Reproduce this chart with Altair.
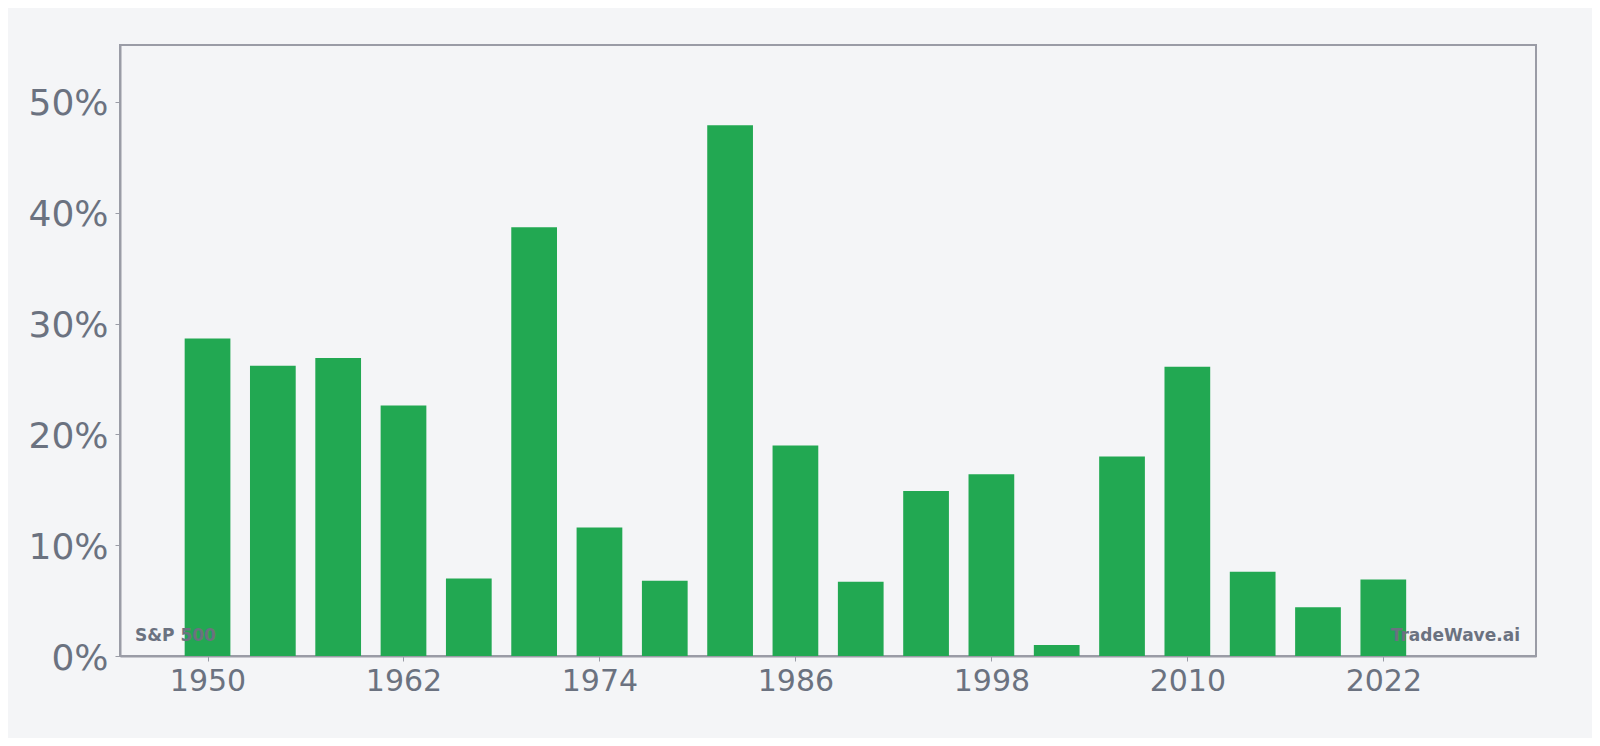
import altair as alt
import pandas as pd

years = [1950, 1954, 1958, 1962, 1966, 1970, 1974, 1978, 1982, 1986,
         1990, 1994, 1998, 2002, 2006, 2010, 2014, 2018, 2022]
returns_pct = [28.65, 26.2, 26.9, 22.6, 7.0, 38.7, 11.6, 6.8, 47.9, 19.0,
               6.7, 14.9, 16.4, 1.0, 18.0, 26.1, 7.6, 4.4, 6.9]
x_ticks = [1950, 1962, 1974, 1986, 1998, 2010, 2022]
y_ticks = [0, 10, 20, 30, 40, 50]
left_label = ["S&P 500"]
right_label = ["TradeWave.ai"]

BG = "#f4f5f7"
GRAY = "#6b7280"
FRAME = "#9a9ca6"
GREEN = "#22a852"

W, H = 1416, 611

df = pd.DataFrame({"year": years, "ret": returns_pct})
df["x0"] = df["year"] - 1.4
df["x1"] = df["year"] + 1.4

xscale = alt.Scale(domain=[1944.64, 2031.35], nice=False, zero=False)
yscale = alt.Scale(domain=[0, 55.14], nice=False)

bars = alt.Chart(df).mark_bar(color=GREEN).encode(
    x=alt.X("x0:Q", scale=xscale,
            axis=alt.Axis(values=x_ticks, format="d", title=None, grid=False,
                          labelFontSize=30, labelColor=GRAY, labelFont="DejaVu Sans",
                          labelPadding=5, tickSize=5, tickColor=FRAME, labelFlush=False,
                          domainColor=FRAME, domainWidth=2)),
    x2="x1:Q",
    y=alt.Y("ret:Q", scale=yscale,
            axis=alt.Axis(values=y_ticks, labelExpr="datum.value + '%'", title=None,
                          grid=False, labelFontSize=36, labelColor=GRAY,
                          labelFont="DejaVu Sans", labelPadding=7, tickSize=5,
                          labelFlush=False, labelBaseline="middle", labelOffset=2,
                          tickColor=FRAME, domainColor=FRAME, domainWidth=2)),
    y2=alt.datum(0),
)

lt = alt.Chart(pd.DataFrame({"t": left_label})).mark_text(
    align="left", baseline="alphabetic", font="DejaVu Sans", fontWeight="bold",
    fontSize=17, color=GRAY
).encode(text="t:N", x=alt.value(15), y=alt.value(H - 15))

rt = alt.Chart(pd.DataFrame({"t": right_label})).mark_text(
    align="right", baseline="alphabetic", font="DejaVu Sans", fontWeight="bold",
    fontSize=17, color=GRAY
).encode(text="t:N", x=alt.value(W - 16), y=alt.value(H - 15))

chart = alt.layer(bars, lt, rt).properties(
    width=W, height=H,
    background=BG,
    autosize=alt.AutoSizeParams(type="none"),
    padding={"left": 112, "top": 37, "right": 56, "bottom": 82},
).configure_view(stroke=FRAME, strokeWidth=2)

chart.save("out.html", embed_options={"renderer": "svg", "actions": False})
